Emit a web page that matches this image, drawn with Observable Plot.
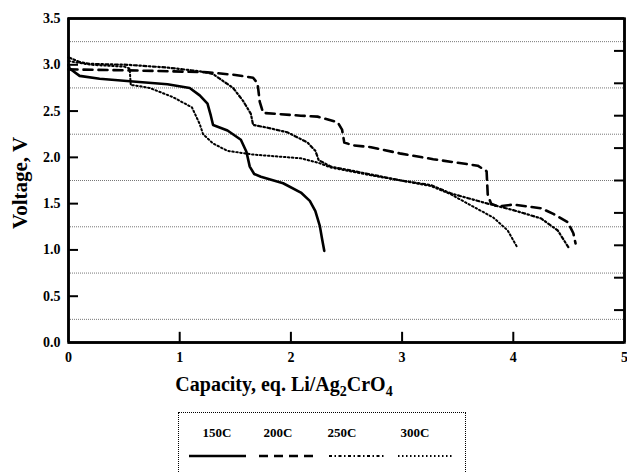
<!DOCTYPE html>
<html><head><meta charset="utf-8">
<script src="https://cdn.jsdelivr.net/npm/d3@7"></script>
<script src="https://cdn.jsdelivr.net/npm/@observablehq/plot@0.6"></script>
<style>
body{margin:0;background:#fff;font-family:"Liberation Serif",serif;}
#wrap{position:relative;width:627px;height:472px;overflow:hidden;}
#legend{position:absolute;left:178px;top:412px;width:288px;height:90px;border:1px dotted #000;box-sizing:border-box;}
.lg{position:absolute;font-weight:bold;font-size:13px;transform:translateX(-50%);top:12px;font-family:"Liberation Serif",serif;}
#legend svg{position:absolute;left:0;top:0;}
</style></head>
<body><div id="wrap"><div id="chart"></div><div id="legend"></div></div>
<script>
// ---- data (capacity, eq. Li/Ag2CrO4 ; voltage, V) ----
const seriesNames = ["150C", "200C", "250C", "300C"];
const s150 = [[0,3.0],[0.01,2.96],[0.1,2.88],[0.28,2.85],[0.58,2.82],[0.89,2.79],[1.09,2.75],[1.18,2.67],[1.25,2.58],[1.28,2.45],[1.30,2.35],[1.43,2.29],[1.55,2.19],[1.60,2.06],[1.63,1.90],[1.67,1.82],[1.73,1.79],[1.93,1.72],[2.09,1.62],[2.17,1.53],[2.22,1.42],[2.26,1.26],[2.28,1.12],[2.30,0.99]];
const s200 = [[0,2.95],[0.53,2.94],[0.89,2.93],[1.25,2.92],[1.50,2.89],[1.66,2.86],[1.70,2.80],[1.72,2.60],[1.75,2.48],[2.09,2.45],[2.24,2.44],[2.42,2.38],[2.46,2.30],[2.48,2.16],[2.56,2.13],[2.72,2.11],[2.99,2.04],[3.28,1.98],[3.68,1.91],[3.76,1.85],[3.77,1.60],[3.80,1.50],[3.86,1.47],[4.0,1.49],[4.25,1.45],[4.36,1.39],[4.49,1.30],[4.54,1.18],[4.56,1.07]];
const s250 = [[0,3.08],[0.1,3.03],[0.19,3.01],[0.53,3.0],[0.89,2.97],[1.18,2.93],[1.30,2.90],[1.36,2.85],[1.48,2.75],[1.57,2.61],[1.64,2.47],[1.66,2.35],[1.79,2.32],[1.97,2.27],[2.15,2.16],[2.22,2.07],[2.25,1.97],[2.36,1.90],[2.7,1.82],[2.99,1.75],[3.26,1.70],[3.44,1.61],[3.77,1.50],[4.0,1.43],[4.25,1.34],[4.40,1.21],[4.50,1.02]];
const s300 = [[0,3.04],[0.2,3.0],[0.5,2.98],[0.55,2.96],[0.56,2.78],[0.58,2.78],[0.73,2.75],[0.94,2.65],[1.11,2.54],[1.18,2.36],[1.21,2.25],[1.30,2.15],[1.43,2.07],[1.66,2.03],[2.09,1.99],[2.25,1.94],[2.36,1.89],[2.7,1.81],[2.99,1.75],[3.26,1.69],[3.44,1.60],[3.59,1.50],[3.82,1.35],[3.95,1.21],[4.03,1.04]];
const xTicks = [0, 1, 2, 3, 4, 5];
const yTicks = [0, 0.5, 1.0, 1.5, 2.0, 2.5, 3.0, 3.5];
const innerXTicks = [1, 2, 3, 4];
const innerYTicks = [0.5, 1.0, 1.5, 2.0, 2.5, 3.0];
const frameX = [0, 5];
const frameY = [0, 3.5];
const gridY = [0.25, 0.75, 1.25, 1.75, 2.25, 2.75, 3.25];
const rightTicks = [0.35, 0.7, 1.05, 1.4, 1.75, 2.1, 2.45, 2.8, 3.15];

const styles = {
  "150C": {strokeWidth: 2.6, dash: null},
  "200C": {strokeWidth: 2.6, dash: "9,6"},
  "250C": {strokeWidth: 2.2, dash: "3,2.5,1.5,2.5"},
  "300C": {strokeWidth: 2, dash: "1.5,2.5"}
};
const seriesData = {"150C": s150, "200C": s200, "250C": s250, "300C": s300};

const lineMarks = seriesNames.map(n => Plot.line(seriesData[n], {
  x: d => d[0], y: d => d[1], stroke: "#000",
  strokeWidth: styles[n].strokeWidth, strokeDasharray: styles[n].dash
}));

const plot = Plot.plot({
  width: 627, height: 400,
  marginTop: 18, marginBottom: 58, marginLeft: 68, marginRight: 3,
  style: {fontFamily: "Liberation Serif", fontWeight: "bold", fontSize: "14px", background: "#fff"},
  x: {domain: frameX},
  y: {domain: frameY},
  marks: [
    Plot.ruleY(gridY, {stroke: "#777", strokeDasharray: "1,1", strokeWidth: 1}),
    Plot.axisX(xTicks, {tickSize: 0, tickPadding: 10, label: null, fontSize: 14, fontWeight: "bold", fill: "#000"}),
    Plot.axisY(yTicks, {tickSize: 0, tickPadding: 8, tickFormat: d3.format(".1f"), label: null, fontSize: 14, fontWeight: "bold", fill: "#000"}),
    Plot.ruleX(innerXTicks, {y1: 0.001, y2: 0.11, stroke: "#000", strokeWidth: 2}),
    Plot.ruleY(innerYTicks, {x1: 0.001, x2: 0.09, stroke: "#000", strokeWidth: 2}),
    Plot.ruleY(rightTicks, {x1: 4.91, x2: 5, stroke: "#000", strokeWidth: 2}),
    ...lineMarks,
    Plot.ruleX(frameX, {stroke: "#000", strokeWidth: 2.5}),
    Plot.ruleY(frameY, {stroke: "#000", strokeWidth: 2.5}),
    Plot.frame({stroke: "#000", strokeWidth: 2.5})
  ]
});
document.getElementById("chart").appendChild(plot);

// axis titles
const svg = d3.select(plot);
const xl = svg.append("text").attr("x", 284).attr("y", 391)
  .attr("text-anchor", "middle").attr("font-size", 20).attr("font-weight", "bold").attr("fill", "#000")
  .attr("font-family", "Liberation Serif");
xl.append("tspan").text("Capacity, eq. Li/Ag");
xl.append("tspan").text("2").attr("font-size", 14).attr("dy", 5);
xl.append("tspan").text("CrO").attr("font-size", 20).attr("dy", -5);
xl.append("tspan").text("4").attr("font-size", 14).attr("dy", 5);
svg.append("text").attr("transform", "translate(27,183) rotate(-90)")
  .attr("text-anchor", "middle").attr("font-size", 21).attr("font-weight", "bold").attr("fill", "#000")
  .attr("font-family", "Liberation Serif")
  .text("Voltage, V");

// legend
const lg = document.getElementById("legend");
const labelX = [38, 99, 163, 236];
const lineX = [[10, 67], [80, 138], [150, 207], [219, 275]];
const lsvg = d3.select(lg).append("svg").attr("width", 288).attr("height", 90);
seriesNames.forEach((n, i) => {
  const d = document.createElement("div");
  d.className = "lg"; d.style.left = labelX[i] + "px"; d.textContent = n;
  lg.appendChild(d);
  lsvg.append("line").attr("x1", lineX[i][0]).attr("x2", lineX[i][1]).attr("y1", 43).attr("y2", 43)
    .attr("stroke", "#000").attr("stroke-width", styles[n].strokeWidth)
    .attr("stroke-dasharray", styles[n].dash);
});
</script></body></html>
